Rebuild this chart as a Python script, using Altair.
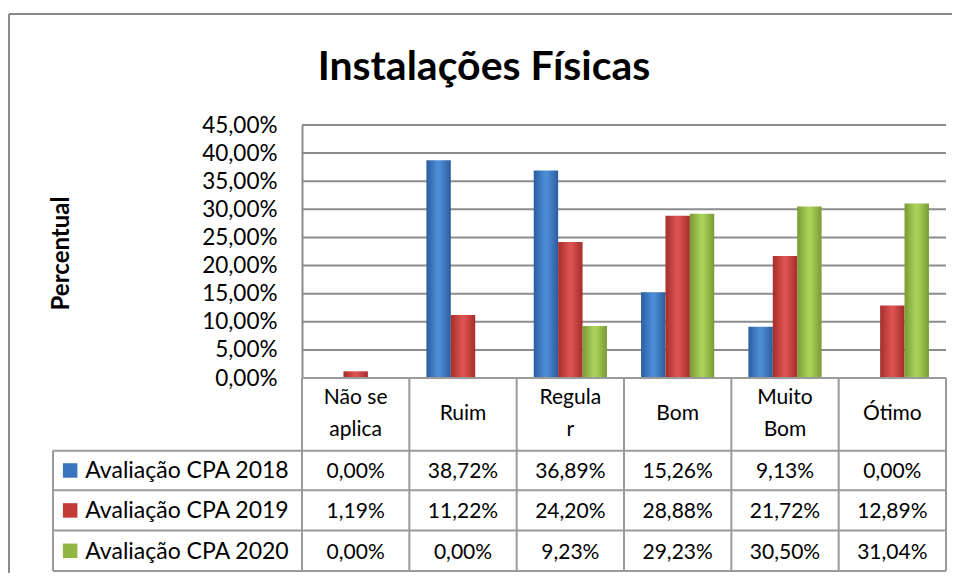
import altair as alt
import pandas as pd

# ---------------- data ----------------
categories = ["Não se aplica", "Ruim", "Regular", "Bom", "Muito Bom", "Ótimo"]
category_labels = ["Não se\naplica", "Ruim", "Regula\nr", "Bom", "Muito\nBom", "Ótimo"]
series = ["Avaliação CPA 2018", "Avaliação CPA 2019", "Avaliação CPA 2020"]
cpa_2018 = [0.00, 38.72, 36.89, 15.26, 9.13, 0.00]
cpa_2019 = [1.19, 11.22, 24.20, 28.88, 21.72, 12.89]
cpa_2020 = [0.00, 0.00, 9.23, 29.23, 30.50, 31.04]
y_ticks = [0, 5, 10, 15, 20, 25, 30, 35, 40, 45]

values_by_series = [cpa_2018, cpa_2019, cpa_2020]

# ---------------- layout / style ----------------
FONT = "Lato"
W, H = 644, 447          # plot area incl. data table
BAR_H = 253              # bar region height
GRID = "#8c8c8c"
TABLE = "#9a9a9a"
row_edges = [0, 1.8, 2.78, 3.78, 4.78]     # data-table rows (header + 3)
legend_left = -2.32                          # legend column left edge (in column units)
gradients = {
    series[0]: ("#2a5c9f", "#4d8dd6"),
    series[1]: ("#a42d2b", "#db524e"),
    series[2]: ("#799a34", "#aad159"),
}
solid = ["#3a74bf", "#c23b39", "#93b546"]

def fmt(v):
    return f"{v:.2f}".replace(".", ",") + "%"

bars_df = pd.DataFrame(
    [{"cat": c, "series": s, "pct": vals[i]}
     for s, vals in zip(series, values_by_series)
     for i, c in enumerate(categories)]
)

x_band = alt.Scale(domain=categories, paddingInner=0, paddingOuter=0)
xo_band = alt.Scale(domain=series, paddingInner=0, paddingOuter=0.7)
y_bar = alt.Scale(domain=[0, 45], range=[BAR_H, 0], nice=False, zero=True)
x_tab = alt.Scale(domain=[0, 6], range=[0, W], nice=False, zero=False)
y_tab = alt.Scale(domain=[0, row_edges[-1]], range=[BAR_H, H - 1], nice=False, zero=False)

layers = []

# horizontal gridlines at the y ticks
grid_df = pd.DataFrame({"v": y_ticks, "a": [0] * len(y_ticks), "b": [6] * len(y_ticks)})
layers.append(
    alt.Chart(grid_df).mark_rule(color=GRID, strokeWidth=2).encode(
        x=alt.X("a:Q", scale=x_tab, axis=None),
        x2="b:Q",
        y=alt.Y("v:Q", scale=y_bar, axis=None),
    )
)

# axis layer (invisible bars carrying the y axis)
axis_layer = alt.Chart(bars_df).mark_bar(opacity=0).encode(
    x=alt.X("cat:N", scale=x_band, axis=None, sort=categories),
    xOffset=alt.XOffset("series:N", scale=xo_band),
    y=alt.Y(
        "pct:Q",
        scale=y_bar,
        axis=alt.Axis(
            values=y_ticks,
            labelExpr="replace(format(datum.value, '.2f'), '.', ',') + '%'",
            grid=False,
            domain=True, domainColor=GRID, domainWidth=2,
            ticks=False, labelPadding=25, labelFontSize=22.5, labelColor="black",
            labelFont=FONT,
            title="Percentual", titleFont=FONT, titleFontSize=24, titleFontWeight="bold",
            titleColor="black", titleAngle=270, titleX=-241, titleY=128,
            titleAlign="center", titleBaseline="middle",
        ),
    ),
)
layers.append(axis_layer)

for s in series:
    dark, light = gradients[s]
    grad = alt.Gradient(
        gradient="linear", x1=0, x2=1, y1=0, y2=0,
        stops=[alt.GradientStop(color=dark, offset=0),
               alt.GradientStop(color=light, offset=0.45),
               alt.GradientStop(color=light, offset=0.55),
               alt.GradientStop(color=dark, offset=1)],
    )
    layers.append(
        alt.Chart(bars_df).transform_filter(alt.datum.series == s).mark_bar(color=grad).encode(
            x=alt.X("cat:N", scale=x_band, axis=None, sort=categories),
            xOffset=alt.XOffset("series:N", scale=xo_band),
            y=alt.Y("pct:Q", scale=y_bar, axis=None),
        )
    )

# ---------------- data table ----------------
lines = []
for i in range(7):
    lines.append({"x0": i, "x1": i, "y0": row_edges[0], "y1": row_edges[-1]})
lines.append({"x0": legend_left, "x1": legend_left, "y0": row_edges[1], "y1": row_edges[-1]})
for e in row_edges[1:]:
    lines.append({"x0": legend_left, "x1": 6, "y0": e, "y1": e})
lines.append({"x0": 0, "x1": 6, "y0": 0, "y1": 0})
lines_df = pd.DataFrame(lines)

layers.append(
    alt.Chart(lines_df).mark_rule(color=TABLE, strokeWidth=2).encode(
        x=alt.X("x0:Q", scale=x_tab, axis=None),
        x2="x1:Q",
        y=alt.Y("y0:Q", scale=y_tab, axis=None),
        y2="y1:Q",
    )
)

row_centers = [(row_edges[k] + row_edges[k + 1]) / 2 for k in range(4)]
header_one, header_two, cells = [], [], []
for i, lab in enumerate(category_labels):
    rec = {"col": i + 0.5, "row": row_centers[0], "txt": lab}
    (header_two if "\n" in lab else header_one).append(rec)
for r, vals in enumerate(values_by_series):
    for i, v in enumerate(vals):
        cells.append({"col": i + 0.5, "row": row_centers[r + 1], "txt": fmt(v)})

def text_layer(records, dy=0):
    return alt.Chart(pd.DataFrame(records)).mark_text(
        font=FONT, fontSize=21, color="black", align="center", baseline="middle",
        lineBreak="\n", lineHeight=32, dy=dy,
    ).encode(
        x=alt.X("col:Q", scale=x_tab, axis=None),
        y=alt.Y("row:Q", scale=y_tab, axis=None),
        text="txt:N",
    )

layers.append(text_layer(header_one))
layers.append(text_layer(header_two, dy=-16))
layers.append(text_layer(cells, dy=2))

legend_df = pd.DataFrame(
    {"series": series, "row": row_centers[1:], "tx": [-2.02] * 3, "sx": [-2.16] * 3}
)
layers.append(
    alt.Chart(legend_df).mark_square(size=210, opacity=1, strokeWidth=0).encode(
        x=alt.X("sx:Q", scale=x_tab, axis=None),
        y=alt.Y("row:Q", scale=y_tab, axis=None),
        color=alt.Color("series:N", scale=alt.Scale(domain=series, range=solid), legend=None),
    )
)
layers.append(
    alt.Chart(legend_df).mark_text(
        font=FONT, fontSize=23, color="black", align="left", baseline="middle", dy=1,
    ).encode(
        x=alt.X("tx:Q", scale=x_tab, axis=None),
        y=alt.Y("row:Q", scale=y_tab, axis=None),
        text="series:N",
    )
)

# outer frame (top and left edges)
frame_df = pd.DataFrame({"k": [0]})
layers.append(
    alt.Chart(frame_df).mark_rule(color="#8a8a8a", strokeWidth=2).encode(
        x=alt.value(-293), x2=alt.value(W + 6), y=alt.value(-111)
    )
)
layers.append(
    alt.Chart(frame_df).mark_rule(color="#8a8a8a", strokeWidth=2).encode(
        x=alt.value(-293), y=alt.value(-111), y2=alt.value(H + 1)
    )
)

chart = alt.layer(*layers).resolve_scale(
    x="independent", y="independent", color="independent"
).properties(
    width=W,
    height=H,
    autosize=alt.AutoSizeParams(type="none"),
    padding={"left": 294, "top": 117, "right": 6, "bottom": 1},
    title=alt.TitleParams(
        "Instalações Físicas", font=FONT, fontSize=41, fontWeight="bold", color="black",
        anchor="middle", frame="group", dx=-140, offset=-108, baseline="alphabetic",
    ),
).configure(
    background="white",
    view=alt.ViewConfig(stroke="transparent", strokeWidth=0),
)

chart.save("out.html", embed_options={"renderer": "svg", "actions": False})
